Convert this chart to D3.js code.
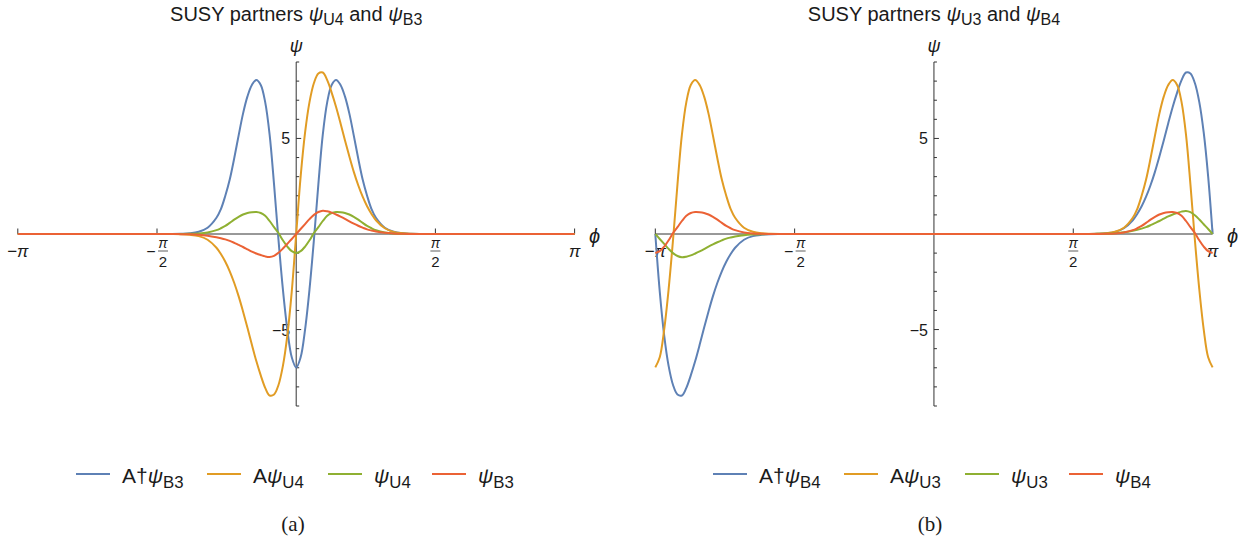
<!DOCTYPE html>
<html>
<head>
<meta charset="utf-8">
<script src="https://cdn.jsdelivr.net/npm/d3@7"></script>
<style>
  body { margin: 0; background: #fff; }
  text { font-family: "Liberation Sans", Arial, sans-serif; fill: #1a1a1a; }
</style>
</head>
<body>
<svg id="chart" width="1258" height="543"></svg>
<script>
// panel (a): grid in phi and the four curves
const phiA = [-3.1416, -1.6, -1.4, -1.3, -1.2, -1.1, -1.0, -0.9, -0.85, -0.8, -0.75, -0.7, -0.65, -0.6, -0.55, -0.5,
  -0.45, -0.4, -0.35, -0.3, -0.25, -0.2, -0.15, -0.1, -0.05, 0, 0.05, 0.1, 0.15, 0.2, 0.25, 0.3, 0.35, 0.4, 0.45,
  0.5, 0.55, 0.6, 0.65, 0.7, 0.75, 0.8, 0.85, 0.9, 1.0, 1.1, 1.2, 1.3, 1.4, 1.6, 3.1416];
const aDagPsiB3 = [0, 0, 0.005, 0.015, 0.04, 0.12, 0.33, 0.85, 1.3, 2.0, 2.85, 3.95, 5.15, 6.3, 7.2, 7.8,
  8.06, 7.8, 6.9, 5.2, 2.6, -0.3, -2.9, -5.0, -6.45, -6.98, -6.45, -5.0, -2.9, -0.3, 2.6, 5.2, 6.9, 7.8, 8.06,
  7.8, 7.2, 6.3, 5.15, 3.95, 2.85, 2.0, 1.3, 0.85, 0.33, 0.12, 0.04, 0.015, 0.005, 0, 0];
const aPsiU4 = [0, 0, -0.003, -0.012, -0.04, -0.11, -0.3, -0.72, -1.05, -1.45, -1.95, -2.55, -3.25, -4.05, -4.9, -5.8,
  -6.65, -7.4, -8.05, -8.45, -8.4, -7.9, -6.9, -5.3, -3.0, 0, 3.0, 5.3, 6.9, 7.9, 8.4, 8.45, 8.05, 7.4, 6.65,
  5.8, 4.9, 4.05, 3.25, 2.55, 1.95, 1.45, 1.05, 0.72, 0.3, 0.11, 0.04, 0.012, 0.003, 0, 0];
const psiU4 = [0, 0, 0, 0.005, 0.012, 0.03, 0.08, 0.2, 0.3, 0.42, 0.58, 0.75, 0.9, 1.02, 1.1, 1.14,
  1.15, 1.1, 0.95, 0.68, 0.36, 0.05, -0.33, -0.66, -0.9, -0.995, -0.9, -0.66, -0.33, 0.05, 0.36, 0.68, 0.95, 1.1, 1.15,
  1.14, 1.1, 1.02, 0.9, 0.75, 0.58, 0.42, 0.3, 0.2, 0.08, 0.03, 0.012, 0.005, 0, 0, 0];
const psiB3 = [0, 0, -0.004, -0.008, -0.015, -0.04, -0.09, -0.17, -0.22, -0.28, -0.36, -0.46, -0.57, -0.68, -0.8, -0.92,
  -1.02, -1.1, -1.17, -1.2, -1.14, -0.98, -0.76, -0.51, -0.26, 0, 0.26, 0.52, 0.78, 1.0, 1.15, 1.22, 1.19, 1.12, 1.02,
  0.91, 0.79, 0.66, 0.54, 0.43, 0.33, 0.24, 0.18, 0.13, 0.06, 0.025, 0.01, 0.004, 0, 0, 0];

// panel (b)
const phiB = [-3.1416, -3.0916, -3.0416, -2.9916, -2.9416, -2.8916, -2.8416, -2.7916, -2.7416, -2.6916, -2.6416,
  -2.5916, -2.5416, -2.4916, -2.4416, -2.3916, -2.3416, -2.2916, -2.2416, -2.1416, -2.0416, -1.9416, -1.8416,
  -1.7416, -1.5416, 0, 1.5416, 1.7416, 1.8416, 1.9416, 2.0416, 2.1416, 2.2416, 2.2916, 2.3416, 2.3916, 2.4416,
  2.4916, 2.5416, 2.5916, 2.6416, 2.6916, 2.7416, 2.7916, 2.8416, 2.8916, 2.9416, 2.9916, 3.0416, 3.0916, 3.1416];
const aDagPsiB4 = [0, -3.0, -5.3, -6.9, -7.9, -8.4, -8.45, -8.05, -7.4, -6.65, -5.8, -4.9, -4.05, -3.25, -2.55, -1.95,
  -1.45, -1.05, -0.72, -0.3, -0.11, -0.04, -0.012, -0.003, 0, 0, 0, 0.003, 0.012, 0.04, 0.11, 0.3, 0.72, 1.05, 1.45,
  1.95, 2.55, 3.25, 4.05, 4.9, 5.8, 6.65, 7.4, 8.05, 8.45, 8.4, 7.9, 6.9, 5.3, 3.0, 0];
const aPsiU3 = [-6.98, -6.45, -5.0, -2.9, -0.3, 2.6, 5.2, 6.9, 7.8, 8.06, 7.8, 7.2, 6.3, 5.15, 3.95, 2.85,
  2.0, 1.3, 0.85, 0.33, 0.12, 0.04, 0.015, 0.005, 0, 0, 0, 0.005, 0.015, 0.04, 0.12, 0.33, 0.85, 1.3, 2.0,
  2.85, 3.95, 5.15, 6.3, 7.2, 7.8, 8.06, 7.8, 6.9, 5.2, 2.6, -0.3, -2.9, -5.0, -6.45, -6.98];
const psiU3 = [0, -0.26, -0.52, -0.78, -1.0, -1.15, -1.22, -1.19, -1.12, -1.02, -0.91, -0.79, -0.66, -0.54, -0.43, -0.33,
  -0.24, -0.18, -0.13, -0.06, -0.025, -0.01, -0.004, 0, 0, 0, 0, 0.004, 0.008, 0.015, 0.04, 0.09, 0.17, 0.22, 0.28,
  0.36, 0.46, 0.57, 0.68, 0.8, 0.92, 1.02, 1.1, 1.17, 1.2, 1.14, 0.98, 0.76, 0.51, 0.26, 0];
const psiB4 = [-0.995, -0.9, -0.66, -0.33, 0.05, 0.36, 0.68, 0.95, 1.1, 1.15, 1.14, 1.1, 1.02, 0.9, 0.75, 0.58,
  0.42, 0.3, 0.2, 0.08, 0.03, 0.012, 0.005, 0, 0, 0, 0, 0, 0.005, 0.012, 0.03, 0.08, 0.2, 0.3, 0.42,
  0.58, 0.75, 0.9, 1.02, 1.1, 1.14, 1.15, 1.1, 0.95, 0.68, 0.36, 0.05, -0.33, -0.66, -0.9, -0.995];

const xTicks = [-Math.PI, -Math.PI / 2, Math.PI / 2, Math.PI];
const xTickLabels = [{ sign: "−", frac: false }, { sign: "−", frac: true }, { sign: "", frac: true }, { sign: "", frac: false }];
const yMajor = [-5, 5];
const yMinor = [-9, -8, -7, -6, -4, -3, -2, -1, 1, 2, 3, 4, 6, 7, 8, 9];

const colors = ["#5e81b5", "#e19c24", "#8fb032", "#eb6235"];

const panels = [
  {
    range: [17.8, 574.6], phi: phiA, series: [aDagPsiB3, aPsiU4, psiU4, psiB3],
    title: [["SUSY partners "], ["ψ", "it"], ["U4", "sub"], [" and "], ["ψ", "it"], ["B3", "sub"]],
    legend: [
      [["A†"], ["ψ", "it"], ["B3", "sub"]], [["A"], ["ψ", "it"], ["U4", "sub"]],
      [["ψ", "it"], ["U4", "sub"]], [["ψ", "it"], ["B3", "sub"]]],
    legendX: [76, 207, 328, 432], caption: "(a)", captionX: 293
  },
  {
    range: [655.3, 1212.6], phi: phiB, series: [aDagPsiB4, aPsiU3, psiU3, psiB4],
    title: [["SUSY partners "], ["ψ", "it"], ["U3", "sub"], [" and "], ["ψ", "it"], ["B4", "sub"]],
    legend: [
      [["A†"], ["ψ", "it"], ["B4", "sub"]], [["A"], ["ψ", "it"], ["U3", "sub"]],
      [["ψ", "it"], ["U3", "sub"]], [["ψ", "it"], ["B4", "sub"]]],
    legendX: [713, 844, 965, 1069], caption: "(b)", captionX: 930
  }
];

const svg = d3.select("#chart");
svg.append("rect").attr("width", 1258).attr("height", 543).attr("fill", "#fff");

// text with italic / subscript pieces
function richText(g, parts, x, y, size, anchor) {
  const t = g.append("text").attr("x", x).attr("y", y)
    .attr("font-size", size).attr("text-anchor", anchor || "start");
  let shift = 0;
  parts.forEach(([str, kind]) => {
    const s = t.append("tspan").text(str);
    const want = kind === "sub" ? size * 0.22 : 0;
    if (want !== shift) { s.attr("dy", want - shift); shift = want; }
    if (kind === "it") s.attr("font-style", "italic");
    if (kind === "sub") s.attr("font-size", size * 0.8);
  });
  return t;
}

const y = d3.scaleLinear().domain([-9, 9]).range([406, 62]);

panels.forEach(p => {
  const x = d3.scaleLinear().domain([-Math.PI, Math.PI]).range(p.range);
  const g = svg.append("g");
  const x0 = x(0);

  // axes
  g.append("line").attr("x1", x(-Math.PI)).attr("x2", x(Math.PI))
    .attr("y1", y(0)).attr("y2", y(0)).attr("stroke", "#333").attr("stroke-width", 1);
  g.append("line").attr("x1", x0).attr("x2", x0)
    .attr("y1", y(-9)).attr("y2", y(9)).attr("stroke", "#333").attr("stroke-width", 1);

  g.selectAll(".xt").data(xTicks).join("line")
    .attr("x1", d => x(d)).attr("x2", d => x(d))
    .attr("y1", y(0)).attr("y2", y(0) - 5.5).attr("stroke", "#333");
  g.selectAll(".ymaj").data(yMajor).join("line")
    .attr("x1", x0).attr("x2", x0 + 5).attr("y1", d => y(d)).attr("y2", d => y(d)).attr("stroke", "#333");
  g.selectAll(".ymin").data(yMinor).join("line")
    .attr("x1", x0).attr("x2", x0 + 3).attr("y1", d => y(d)).attr("y2", d => y(d)).attr("stroke", "#333");

  g.selectAll(".yl").data(yMajor).join("text")
    .attr("x", x0 - 6).attr("y", d => y(d) + 6).attr("font-size", 16)
    .attr("text-anchor", "end").text(d => d < 0 ? "−" + Math.abs(d) : d);

  // x tick labels: ±π and ±π/2 as stacked fractions
  xTicks.forEach((v, i) => {
    const lab = xTickLabels[i];
    const cx = x(v);
    if (!lab.frac) {
      richText(g, [[lab.sign], ["π", "it"]], cx, 257, 17, "middle");
    } else {
      const fx = lab.sign ? cx + 6 : cx;
      if (lab.sign) g.append("text").attr("x", cx - 6).attr("y", 257).attr("font-size", 16)
        .attr("text-anchor", "middle").text("−");
      g.append("text").attr("x", fx).attr("y", 248).attr("font-size", 14)
        .attr("font-style", "italic").attr("text-anchor", "middle").text("π");
      g.append("line").attr("x1", fx - 5).attr("x2", fx + 5).attr("y1", 251).attr("y2", 251)
        .attr("stroke", "#1a1a1a").attr("stroke-width", 0.7);
      g.append("text").attr("x", fx).attr("y", 267).attr("font-size", 15)
        .attr("text-anchor", "middle").text("2");
    }
  });

  // axis names
  g.append("text").attr("x", x(Math.PI) + 20).attr("y", 243).attr("font-size", 20)
    .attr("font-style", "italic").attr("text-anchor", "middle").text("ϕ");
  g.append("text").attr("x", x0).attr("y", 52).attr("font-size", 18)
    .attr("font-style", "italic").attr("text-anchor", "middle").text("ψ");

  // curves
  const line = d3.line().x((d, j) => x(p.phi[j])).y(d => y(d)).curve(d3.curveCatmullRom.alpha(0.5));
  p.series.forEach((s, k) => {
    g.append("path").attr("d", line(s)).attr("fill", "none")
      .attr("stroke", colors[k]).attr("stroke-width", 2);
  });

  // title
  richText(g, p.title, x0, 21, 20, "middle");

  // legend
  p.legend.forEach((parts, k) => {
    const lx = p.legendX[k];
    g.append("line").attr("x1", lx).attr("x2", lx + 34).attr("y1", 474).attr("y2", 474)
      .attr("stroke", colors[k]).attr("stroke-width", 2);
    richText(g, parts, lx + 46, 483, 21, "start");
  });

  g.append("text").attr("x", p.captionX).attr("y", 531).attr("font-size", 21)
    .attr("text-anchor", "middle").style("font-family", "'Liberation Serif', serif").text(p.caption);
});
</script>
</body>
</html>
